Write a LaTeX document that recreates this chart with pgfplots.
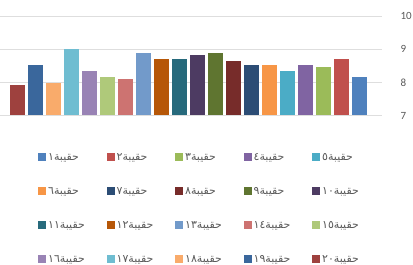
\documentclass[border=0pt]{standalone}
\usepackage{pgfplots}
\pgfplotsset{compat=1.18}
\usepackage{fontspec}
\setmainfont{Carlito}
\newfontfamily\arabicfont[Script=Arabic]{DejaVu Sans}
\TeXXeTstate=1
\definecolor{s1}{HTML}{4F81BD}
\definecolor{s2}{HTML}{C0504D}
\definecolor{s3}{HTML}{9BBB59}
\definecolor{s4}{HTML}{8064A2}
\definecolor{s5}{HTML}{4BACC6}
\definecolor{s6}{HTML}{F79646}
\definecolor{s7}{HTML}{2C4D75}
\definecolor{s8}{HTML}{772C2A}
\definecolor{s9}{HTML}{5F7530}
\definecolor{s10}{HTML}{4D3B62}
\definecolor{s11}{HTML}{276A7C}
\definecolor{s12}{HTML}{B65708}
\definecolor{s13}{HTML}{729ACA}
\definecolor{s14}{HTML}{CD7371}
\definecolor{s15}{HTML}{AFC97A}
\definecolor{s16}{HTML}{9983B5}
\definecolor{s17}{HTML}{6FBDD1}
\definecolor{s18}{HTML}{F9AB6B}
\definecolor{s19}{HTML}{3A679C}
\definecolor{s20}{HTML}{9E413E}
\definecolor{txt}{HTML}{595959}
\newcommand{\lab}[1]{\makebox[52pt][l]{\arabicfont\beginR حقيبة\beginL#1\endL\endR}}
\begin{document}
\begin{tikzpicture}
\useasboundingbox (0,0) rectangle (413pt,265pt);
\clip (0,0) rectangle (413pt,265pt);
\begin{axis}[
  at={(-5pt,149.5pt)}, anchor=south west,
  scale only axis, width=387pt, height=99.5pt,
  x dir=reverse,
  xmin=-0.25, xmax=21.25, ymin=7, ymax=10,
  ytick={7,8,9,10}, xtick=\empty,
  ymajorgrids, grid style={draw=black!13, line width=0.8pt},
  axis line style={draw=none},
  major tick length=0pt,
  yticklabel pos=right,
  yticklabel style={anchor=west, xshift=15pt, font=\fontsize{11}{13}\selectfont, text=txt},
  /pgf/number format/assume math mode=true,
  ybar, bar width=15pt, bar shift=0pt,
  legend columns=5,
  legend style={at={(axis description cs:0.111,-0.36)}, anchor=north west,
    draw=none, fill=none, inner sep=0pt, row sep=21.5pt,
    font=\fontsize{11}{13}\selectfont, text=txt,
    /tikz/every even column/.append style={column sep=4.5pt}},
  legend image code/.code={\fill[#1] (0pt,-3.5pt) rectangle (8pt,4.5pt);},
]
\addplot[fill=s1, draw=none] coordinates {(1,8.17)};
\addplot[fill=s2, draw=none] coordinates {(2,8.71)};
\addplot[fill=s3, draw=none] coordinates {(3,8.47)};
\addplot[fill=s4, draw=none] coordinates {(4,8.53)};
\addplot[fill=s5, draw=none] coordinates {(5,8.35)};
\addplot[fill=s6, draw=none] coordinates {(6,8.53)};
\addplot[fill=s7, draw=none] coordinates {(7,8.53)};
\addplot[fill=s8, draw=none] coordinates {(8,8.65)};
\addplot[fill=s9, draw=none] coordinates {(9,8.89)};
\addplot[fill=s10, draw=none] coordinates {(10,8.83)};
\addplot[fill=s11, draw=none] coordinates {(11,8.71)};
\addplot[fill=s12, draw=none] coordinates {(12,8.71)};
\addplot[fill=s13, draw=none] coordinates {(13,8.89)};
\addplot[fill=s14, draw=none] coordinates {(14,8.11)};
\addplot[fill=s15, draw=none] coordinates {(15,8.17)};
\addplot[fill=s16, draw=none] coordinates {(16,8.35)};
\addplot[fill=s17, draw=none] coordinates {(17,9.01)};
\addplot[fill=s18, draw=none] coordinates {(18,7.99)};
\addplot[fill=s19, draw=none] coordinates {(19,8.53)};
\addplot[fill=s20, draw=none] coordinates {(20,7.93)};
\legend{\lab{١},\lab{٢},\lab{٣},\lab{٤},\lab{٥},
\lab{٦},\lab{٧},\lab{٨},\lab{٩},\lab{١٠},
\lab{١١},\lab{١٢},\lab{١٣},\lab{١٤},\lab{١٥},
\lab{١٦},\lab{١٧},\lab{١٨},\lab{١٩},\lab{٢٠}}
\end{axis}
\end{tikzpicture}
\end{document}
